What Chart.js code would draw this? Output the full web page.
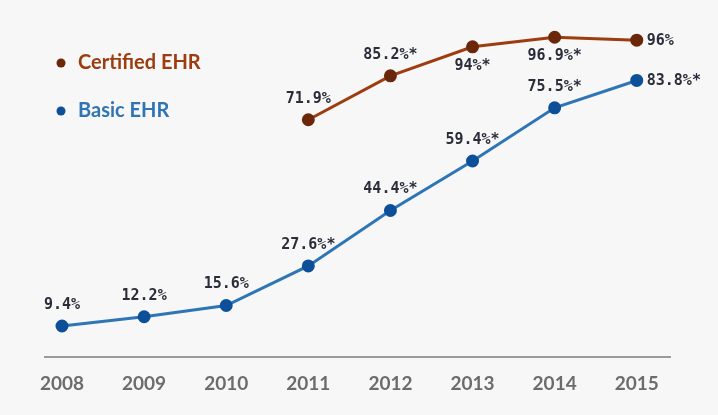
<!DOCTYPE html>
<html>
<head>
<meta charset="utf-8">
<script src="https://cdn.jsdelivr.net/npm/chart.js@4.4.1/dist/chart.umd.min.js"></script>
<style>
  html, body { margin: 0; padding: 0; background: #f7f7f7; }
  #wrap { width: 718px; height: 415px; }
</style>
</head>
<body>
<div id="wrap"><canvas id="ehrChart" width="718" height="415"></canvas></div>
<script>
// ---- data ----
const years = [2008, 2009, 2010, 2011, 2012, 2013, 2014, 2015];
const certifiedValues = [null, null, null, 71.9, 85.2, 94, 96.9, 96];
const certifiedLabels = ['', '', '', '71.9%', '85.2%*', '94%*', '96.9%*', '96%'];
const basicValues = [9.4, 12.2, 15.6, 27.6, 44.4, 59.4, 75.5, 83.8];
const basicLabels = ['9.4%', '12.2%', '15.6%', '27.6%*', '44.4%*', '59.4%*', '75.5%*', '83.8%*'];

// where each value label sits relative to its point
const certifiedLabelPos = ['above', 'above', 'above', 'above', 'above', 'below', 'below', 'right'];
const basicLabelPos = ['above', 'above', 'above', 'above', 'above', 'above', 'above', 'right'];

const CERT_LINE = '#9d3c0f';
const CERT_POINT = '#6b2709';
const BASIC_LINE = '#2e75b6';
const BASIC_POINT = '#0d4f99';

// value labels next to the points
const valueLabels = {
  id: 'valueLabels',
  afterDatasetsDraw(chart) {
    const ctx = chart.ctx;
    ctx.save();
    ctx.font = 'bold 15px "DejaVu Sans Mono", monospace';
    ctx.fillStyle = '#2b2d3a';
    chart.data.datasets.forEach((ds, di) => {
      const meta = chart.getDatasetMeta(di);
      meta.data.forEach((pt, i) => {
        const txt = ds.valueText[i];
        if (!txt || ds.data[i] === null) return;
        const pos = ds.labelPos[i];
        if (pos === 'right') {
          ctx.textAlign = 'left';
          ctx.textBaseline = 'middle';
          ctx.fillText(txt, pt.x + 10, pt.y + 1);
        } else if (pos === 'below') {
          ctx.textAlign = 'center';
          ctx.textBaseline = 'middle';
          ctx.fillText(txt, pt.x, pt.y + 19);
        } else {
          ctx.textAlign = 'center';
          ctx.textBaseline = 'middle';
          ctx.fillText(txt, pt.x, pt.y - 21);
        }
      });
    });
    ctx.restore();
  }
};

// legend in upper left corner
const cornerLegend = {
  id: 'cornerLegend',
  afterDraw(chart) {
    const ctx = chart.ctx;
    ctx.save();
    ctx.font = 'bold 20px Lato, sans-serif';
    ctx.textBaseline = 'middle';
    ctx.textAlign = 'left';
    const rows = [{ y: 63, di: 0, text: CERT_LINE }, { y: 111, di: 1, text: BASIC_LINE }];
    rows.forEach(r => {
      const ds = chart.data.datasets[r.di];
      ctx.fillStyle = ds.pointBackgroundColor;
      ctx.beginPath();
      ctx.arc(61, r.y, 4.5, 0, Math.PI * 2);
      ctx.fill();
      ctx.fillStyle = r.text;
      ctx.fillText(ds.label, 78, r.y);
    });
    ctx.restore();
  }
};

new Chart(document.getElementById('ehrChart'), {
  type: 'line',
  data: {
    datasets: [
      {
        label: 'Certified EHR',
        data: years.map((y, i) => ({ x: y, y: certifiedValues[i] })),
        valueText: certifiedLabels,
        labelPos: certifiedLabelPos,
        borderColor: CERT_LINE,
        pointBackgroundColor: CERT_POINT,
        pointBorderColor: CERT_POINT,
        borderWidth: 3,
        pointRadius: 5,
        tension: 0,
        spanGaps: false,
        clip: false
      },
      {
        label: 'Basic EHR',
        data: years.map((y, i) => ({ x: y, y: basicValues[i] })),
        valueText: basicLabels,
        labelPos: basicLabelPos,
        borderColor: BASIC_LINE,
        pointBackgroundColor: BASIC_POINT,
        pointBorderColor: BASIC_POINT,
        borderWidth: 3,
        pointRadius: 5,
        tension: 0,
        clip: false
      }
    ]
  },
  options: {
    responsive: false,
    animation: false,
    parsing: { xAxisKey: 'x', yAxisKey: 'y' },
    layout: { padding: { left: 45, right: 48, top: 27, bottom: 0 } },
    plugins: {
      legend: { display: false },
      tooltip: { enabled: false }
    },
    scales: {
      x: {
        type: 'linear',
        min: 2007.793,
        max: 2015.405,
        afterBuildTicks(scale) {
          scale.ticks = years.map(v => ({ value: v }));
        },
        afterFit(scale) { scale.height = 58; },
        grid: { display: false, drawTicks: false },
        border: { display: true, color: '#9a9a9a', width: 2 },
        ticks: {
          padding: 15,
          color: '#6c6c6c',
          font: { family: 'Lato, sans-serif', size: 19, weight: 'bold' },
          callback: v => String(v)
        }
      },
      y: {
        display: false,
        min: 0,
        max: 100
      }
    }
  },
  plugins: [valueLabels, cornerLegend]
});
</script>
</body>
</html>
